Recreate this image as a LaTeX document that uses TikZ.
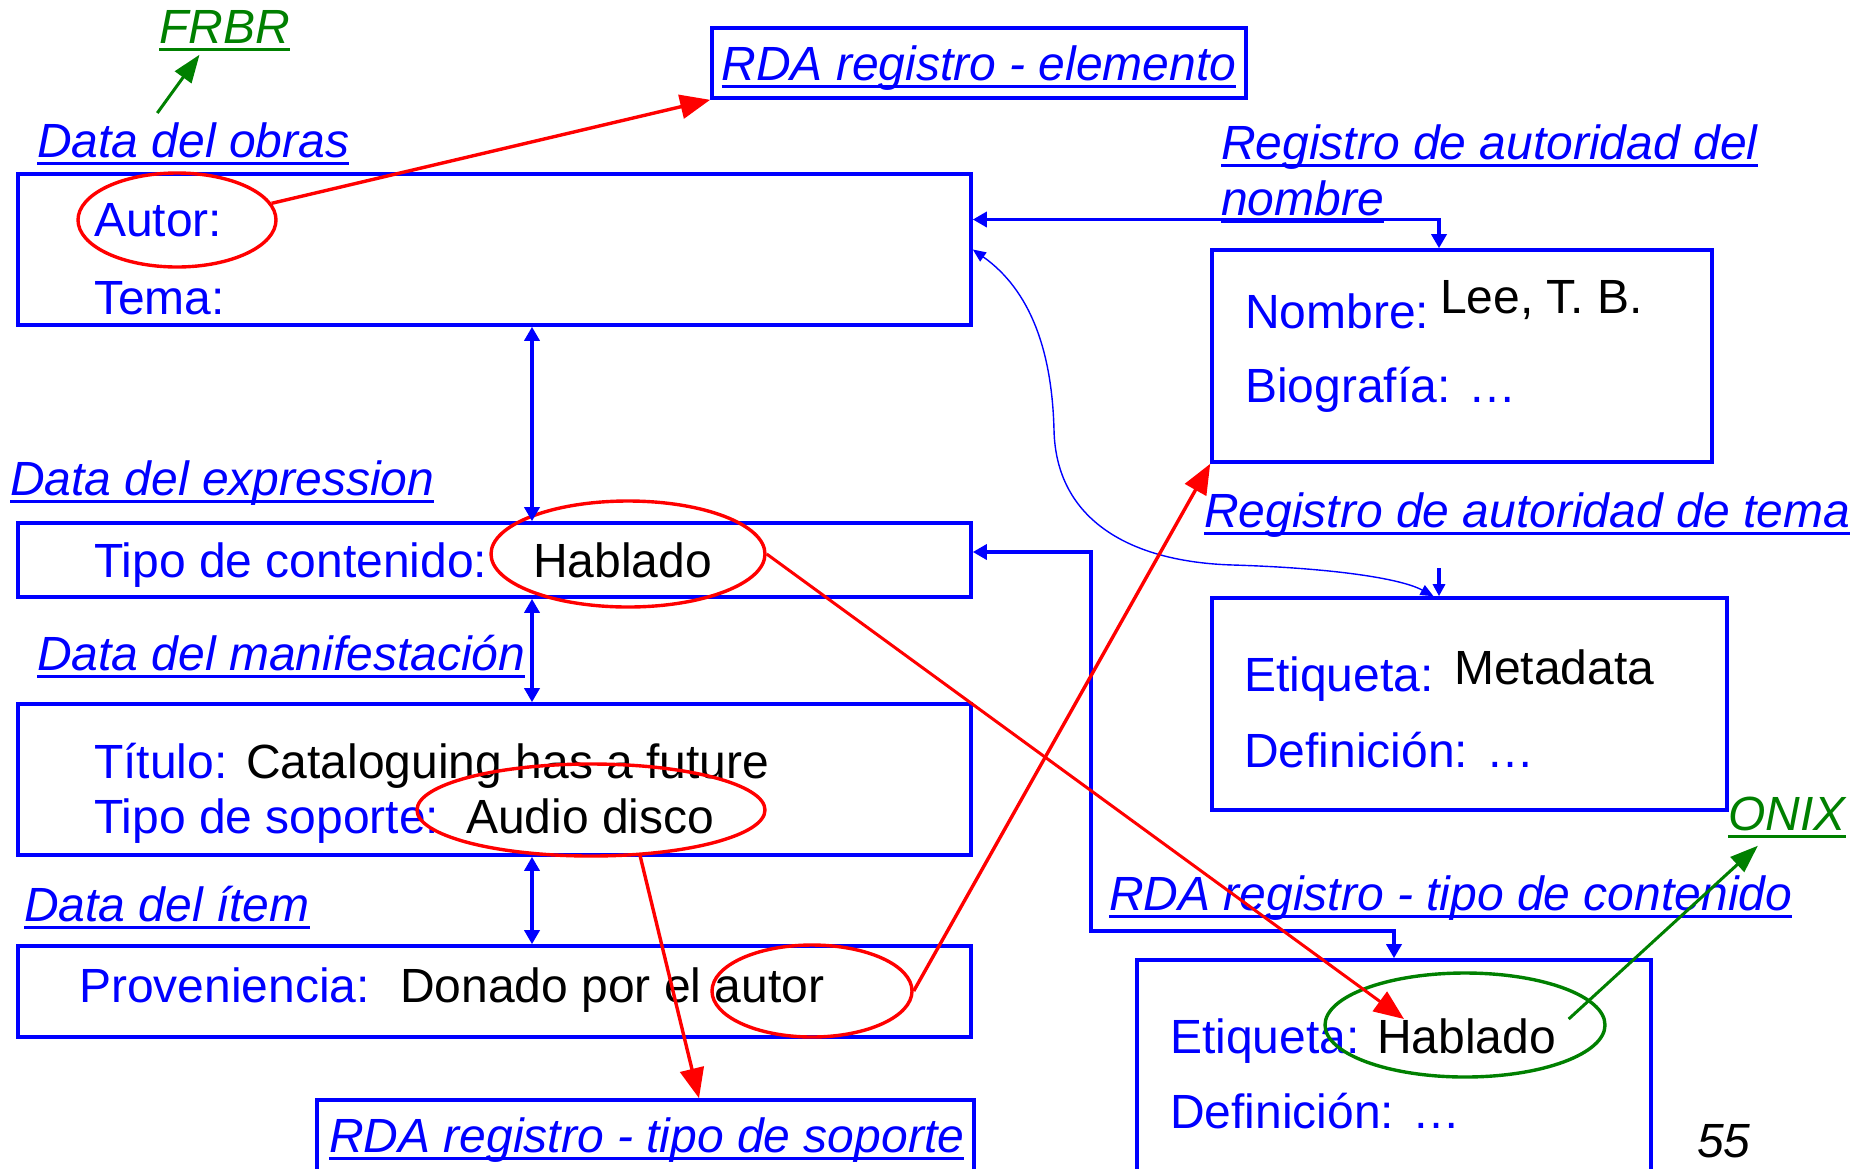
\documentclass[tikz,border=0pt]{standalone}
\usepackage{fontspec}
\setmainfont{Liberation Sans}
\usetikzlibrary{arrows.meta, positioning, shapes.geometric}
\definecolor{linkblue}{RGB}{0,0,255}
\definecolor{markred}{RGB}{255,0,0}
\definecolor{onixgreen}{RGB}{0,128,0}
% underlined heading text
\newsavebox{\undlbox}
\newcommand{\undl}[1]{\sbox{\undlbox}{#1}\rlap{\rule[-7.5pt]{\wd\undlbox}{3pt}}\usebox{\undlbox}}

\begin{document}
\begin{tikzpicture}[x=1pt, y=-1pt,
  every node/.style={inner sep=0pt, font=\fontsize{48}{56}\selectfont},
  recbox/.style={draw=linkblue, line width=3.6pt, rectangle},
  field/.style={anchor=base west, text=linkblue},
  value/.style={anchor=base west, text=black},
  head/.style={anchor=base west, text=linkblue, font=\fontsize{48}{56}\selectfont\itshape},
  greenhead/.style={head, text=onixgreen},
  ring/.style={ellipse, draw=markred, line width=3.4pt},
  link/.style={draw=linkblue, line width=3.4pt, >={Triangle[length=14pt,width=15pt]}},
  thinlink/.style={draw=linkblue, line width=1.4pt, >={Triangle[length=13pt,width=11pt]}},
  redarrow/.style={draw=markred, line width=3.4pt, -{Triangle[length=30pt,width=24pt]}},
  greenarrow/.style={draw=onixgreen, line width=3pt, -{Triangle[length=28pt,width=20pt]}}]
  \useasboundingbox (0,0) rectangle (1854,1168);
  \clip (0,0) rectangle (1854,1168);

  % record boxes
  \node[recbox, minimum width=953pt, minimum height=151pt] (obras) at (494.5,249.5) {};
  \node[recbox, minimum width=953pt, minimum height=74pt] (expr) at (494.5,560) {};
  \node[recbox, minimum width=953pt, minimum height=151pt] (manif) at (494.5,779.5) {};
  \node[recbox, minimum width=953pt, minimum height=91pt] (item) at (494.5,991.5) {};
  \node[recbox, minimum width=534pt, minimum height=70pt] (elemento) at (979,63) {};
  \node[recbox, minimum width=500pt, minimum height=212pt] (nombre) at (1462,356) {};
  \node[recbox, minimum width=515pt, minimum height=212pt] (tema) at (1469.5,704) {};
  \node[recbox, minimum width=657pt, minimum height=80pt] (soporte) at (645.5,1140) {};
  \node[recbox, minimum width=514pt, minimum height=240pt] (content) at (1394,1080) {};

  % headings
  \node[greenhead] (frbr) at (159,43) {\undl{FRBR}};
  \node[head] (obrashead) at (37,157) {\undl{Data del obras}};
  \node[head] (exprhead) at (10,495) {\undl{Data del expression}};
  \node[head] (manifhead) at (37,670) {\undl{Data del manifestación}};
  \node[head] (itemhead) at (24,921) {\undl{Data del ítem}};
  \node[head, anchor=base] (elemhead) at (979,80) {\undl{RDA registro - elemento}};
  \node[head] (nomhead) at (1221,159) {\undl{Registro de autoridad del}};
  \node[head] (nomhead2) at (1221,215) {\undl{nombre}};
  \node[head] (temahead) at (1204,527) {\undl{Registro de autoridad de tema}};
  \node[head] (conthead) at (1109,910) {\undl{RDA registro - tipo de contenido}};
  \node[head] (sophead) at (329,1152) {\undl{RDA registro - tipo de soporte}};
  \node[greenhead] (onix) at (1728,830) {\undl{ONIX}};

  % fields
  \node[field] (autor) at (94,236) {Autor:};
  \node[field] (temaf) at (94,314) {Tema:};
  \node[field] (tipocont) at (94,577) {Tipo de contenido:};
  \node[value] (hablado) at (533,577) {Hablado};
  \node[field] (titulo) at (94,778) {Título:};
  \node[value] (tituloval) at (246,778) {Cataloguing has a future};
  \node[field] (tiposop) at (94,833) {Tipo de soporte:};
  \node[value] (tiposopval) at (466,833) {Audio disco};
  \node[field] (proven) at (79,1002) {Proveniencia:};
  \node[value] (provenval) at (400,1002) {Donado por el autor};
  \node[field] (nomf) at (1245,328) {Nombre:};
  \node[value] (nomval) at (1440,313) {Lee, T. B.};
  \node[field] (biof) at (1245,402) {Biografía: …};
  \node[field] (etiqf) at (1244,691) {Etiqueta:};
  \node[value] (etiqval) at (1454,684) {Metadata};
  \node[field] (deff) at (1244,767) {Definición: …};
  \node[field] (etiqf2) at (1170,1053) {Etiqueta:};
  \node[value] (etiqval2) at (1377,1053) {Hablado};
  \node[field] (deff2) at (1170,1128) {Definición: …};
  \node[anchor=base west, font=\fontsize{48}{56}\selectfont\itshape] (pagenum) at (1697,1157) {55};

  % marks
  \node[ring, minimum width=198pt, minimum height=94pt] (autorring) at (177,220) {};
  \node[ring, minimum width=274pt, minimum height=106pt] (hablring) at (628,554) {};
  \node[ring, minimum width=348pt, minimum height=92pt] (soporring) at (591,810) {};
  \node[ring, minimum width=200pt, minimum height=92pt] (donring) at (812,991) {};
  \node[ring, draw=onixgreen, minimum width=280pt, minimum height=104pt] (onixring) at (1465,1025) {};

  % links between records
  \coordinate (spine) at (532,0);
  \coordinate (bend) at (1091,931);
  \coordinate (temastub) at (1439,568);
  \coordinate (habltip) at (1404,1019);
  \draw[link, <->] (obras.south -| spine) -- (expr.north -| spine);
  \draw[link, <->] (expr.south -| spine) -- (manif.north -| spine);
  \draw[link, <->] (manif.south -| spine) -- (item.north -| spine);
  \draw[link, <->] ([yshift=30pt]obras.east) -| ([xshift=-23pt]nombre.north);
  \draw[link, <->] ([yshift=8pt]expr.east) -| (bend) -| (content.north);
  \draw[link, ->, >={Triangle[length=12pt,width=12pt]}] (temastub) -- (temastub |- tema.north);
  \draw[thinlink, <->] (obras.east) .. controls (1030,290) and (1052,350) .. (1054,430)
    .. controls (1056,520) and (1130,562) .. (1233,565)
    .. controls (1330,568) and (1400,578) .. ([xshift=-36pt]tema.north);

  % red pointers
  \draw[redarrow] (autorring.10) -- (elemento.south west);
  \draw[redarrow, line width=3pt] (hablring.east) -- (habltip);
  \draw[redarrow] (soporring.-43) -- ([xshift=53.5pt]soporte.north);
  \draw[redarrow] (donring.east) -- (nombre.south west);

  % green pointers
  \draw[greenarrow] ([xshift=-36pt,yshift=9pt]obrashead.north) -- ([xshift=-25pt,yshift=-4pt]frbr.south);
  \draw[greenarrow] ([xshift=-38pt,yshift=6pt]onixring.east) -- ([xshift=-29pt,yshift=-8pt]onix.south);
\end{tikzpicture}
\end{document}
